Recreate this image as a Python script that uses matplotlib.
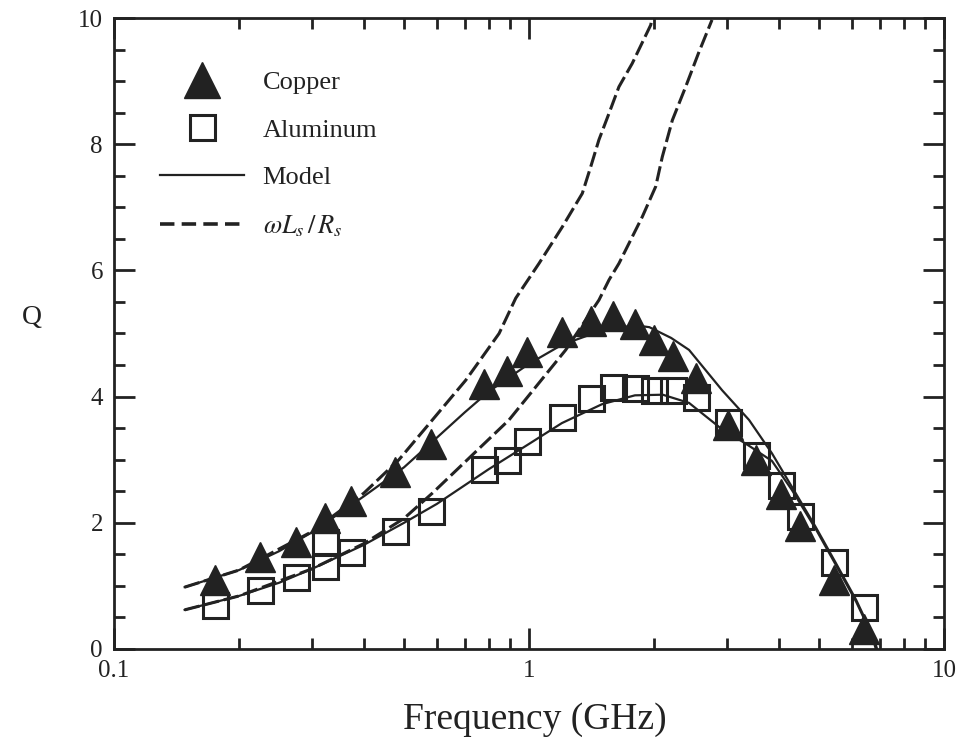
import numpy as np
from matplotlib import pyplot as plt
import matplotlib as mpl
from matplotlib.lines import Line2D
from matplotlib.ticker import FixedLocator, NullFormatter, MultipleLocator

# measured points
copper_f = [0.175, 0.225, 0.275, 0.322, 0.372, 0.475, 0.581, 0.779, 0.885, 0.989, 1.20, 1.41,
            1.59, 1.80, 2.00, 2.22, 2.53, 3.02, 3.52, 4.05, 4.50, 5.43, 6.41]
copper_q = [1.10, 1.45, 1.70, 2.08, 2.35, 2.80, 3.25, 4.20, 4.40, 4.70, 5.02, 5.20,
            5.28, 5.15, 4.90, 4.65, 4.30, 3.55, 3.00, 2.45, 1.95, 1.10, 0.32]

alum_f = [0.175, 0.225, 0.275, 0.322, 0.322, 0.372, 0.475, 0.581, 0.779, 0.885, 0.989, 1.20,
          1.41, 1.59, 1.80, 2.00, 2.22, 2.53, 3.02, 3.52, 4.05, 4.50, 5.43, 6.41]
alum_q = [0.70, 0.94, 1.14, 1.70, 1.32, 1.53, 1.87, 2.18, 2.86, 3.00, 3.30, 3.68,
          3.97, 4.15, 4.13, 4.10, 4.10, 4.00, 3.60, 3.07, 2.60, 2.10, 1.38, 0.66]

# model curves
cu_model_f = [0.148, 0.2, 0.25, 0.3, 0.4, 0.5, 0.6, 0.7, 0.8, 1.0, 1.2, 1.5, 1.8, 1.95, 2.2,
              2.43, 2.92, 3.39, 3.85, 4.30, 4.91, 5.49, 6.14, 6.70, 6.90]
cu_model_q = [0.98, 1.25, 1.55, 1.85, 2.42, 2.88, 3.35, 3.75, 4.08, 4.52, 4.82, 5.05, 5.13, 5.10, 4.93,
              4.74, 4.10, 3.63, 3.10, 2.57, 1.93, 1.36, 0.78, 0.25, 0.0]

al_model_f = [0.148, 0.2, 0.25, 0.3, 0.4, 0.5, 0.6, 0.8, 1.0, 1.2, 1.5, 1.8, 2.1,
              2.43, 2.87, 3.39, 3.85, 4.30, 4.91, 5.49, 6.14, 6.70, 6.85]
al_model_q = [0.62, 0.84, 1.05, 1.27, 1.65, 2.00, 2.30, 2.85, 3.25, 3.58, 3.88, 4.02, 4.03,
              3.90, 3.52, 3.22, 2.98, 2.52, 1.90, 1.33, 0.75, 0.22, 0.0]

# wLs/Rs curves
cu_wl_f = [0.148, 0.2, 0.3, 0.4, 0.486, 0.585, 0.704, 0.847, 0.929, 1.057, 1.203, 1.344,
           1.408, 1.474, 1.559, 1.647, 1.773, 1.965, 1.98]
cu_wl_q = [0.98, 1.25, 1.86, 2.47, 3.0, 3.63, 4.26, 5.0, 5.56, 6.11, 6.69, 7.22,
           7.64, 8.07, 8.49, 8.91, 9.28, 9.89, 10.0]

al_wl_f = [0.148, 0.2, 0.3, 0.4, 0.5, 0.585, 0.895, 1.226, 1.474, 1.559, 1.647, 1.875,
           2.02, 2.095, 2.215, 2.385, 2.56, 2.76]
al_wl_q = [0.62, 0.84, 1.27, 1.67, 2.07, 2.47, 3.63, 4.74, 5.53, 5.85, 6.11, 6.85,
           7.33, 7.80, 8.38, 8.91, 9.44, 9.97]

xtick_vals = [0.1, 1, 10]
xtick_labels = ['0.1', '1', '10']
ytick_vals = [0, 2, 4, 6, 8, 10]

ink = '#222222'

mpl.rcParams.update({
    'font.family': 'Liberation Serif',
    'mathtext.fontset': 'stix',
    'axes.linewidth': 2.0,
})

fig = plt.figure(figsize=(9.58, 7.44), dpi=100)
ax = fig.add_axes([0.119, 0.1277, 0.8664, 0.8481])

ax.plot(alum_f, alum_q, linestyle='none', marker='s', ms=18, mew=2.2,
        mfc='none', mec=ink, zorder=3)
ax.plot(copper_f, copper_q, linestyle='none', marker='^', ms=21,
        mfc=ink, mec=ink, zorder=2)

ax.plot(cu_model_f, cu_model_q, color=ink, lw=1.6, zorder=4)
ax.plot(al_model_f, al_model_q, color=ink, lw=1.6, zorder=4)
ax.plot(cu_wl_f, cu_wl_q, color=ink, lw=2.2, dashes=(5, 1.6), zorder=4)
ax.plot(al_wl_f, al_wl_q, color=ink, lw=2.2, dashes=(5, 1.6), zorder=4)

ax.set_xscale('log')
ax.set_xlim(0.1, 10)
ax.set_ylim(0, 10)

ax.xaxis.set_major_locator(FixedLocator(xtick_vals))
ax.set_xticklabels(xtick_labels)
ax.xaxis.set_minor_locator(FixedLocator([m * d for d in (0.1, 1) for m in range(2, 10)]))
ax.xaxis.set_minor_formatter(NullFormatter())
ax.set_yticks(ytick_vals)
ax.yaxis.set_minor_locator(MultipleLocator(0.5))

ax.tick_params(which='both', direction='in', top=True, right=True, color=ink,
               labelsize=18, labelcolor=ink)
ax.tick_params(which='major', length=15, width=2.0)
ax.tick_params(which='minor', length=8, width=2.0)
ax.tick_params(axis='x', pad=8)
ax.tick_params(axis='y', pad=8)
for s in ax.spines.values():
    s.set_color(ink)

ax.set_xlabel('Frequency (GHz)', fontsize=27, color=ink)
ax.xaxis.set_label_coords(0.507, -0.085)
ax.set_ylabel('Q', fontsize=20, rotation=0, color=ink)
ax.yaxis.set_label_coords(-0.099, 0.506)

handles = [
    Line2D([], [], linestyle='none', marker='^', ms=26, mfc=ink, mec=ink),
    Line2D([], [], linestyle='none', marker='s', ms=18, mew=2.2, mfc='none', mec=ink),
    Line2D([], [], color=ink, lw=1.6),
    Line2D([], [], color=ink, lw=2.6, dashes=(4, 2)),
]
labels = ['Copper', 'Aluminum', 'Model', r'$\omega L_s\,/\,R_s$']
ax.legend(handles, labels, loc='upper left', bbox_to_anchor=(0.055, 0.917),
          frameon=False, fontsize=19, handlelength=3.2, handletextpad=0.7,
          labelspacing=0.92, borderpad=0, borderaxespad=0, labelcolor=ink)

plt.savefig('out.png', dpi=100)
